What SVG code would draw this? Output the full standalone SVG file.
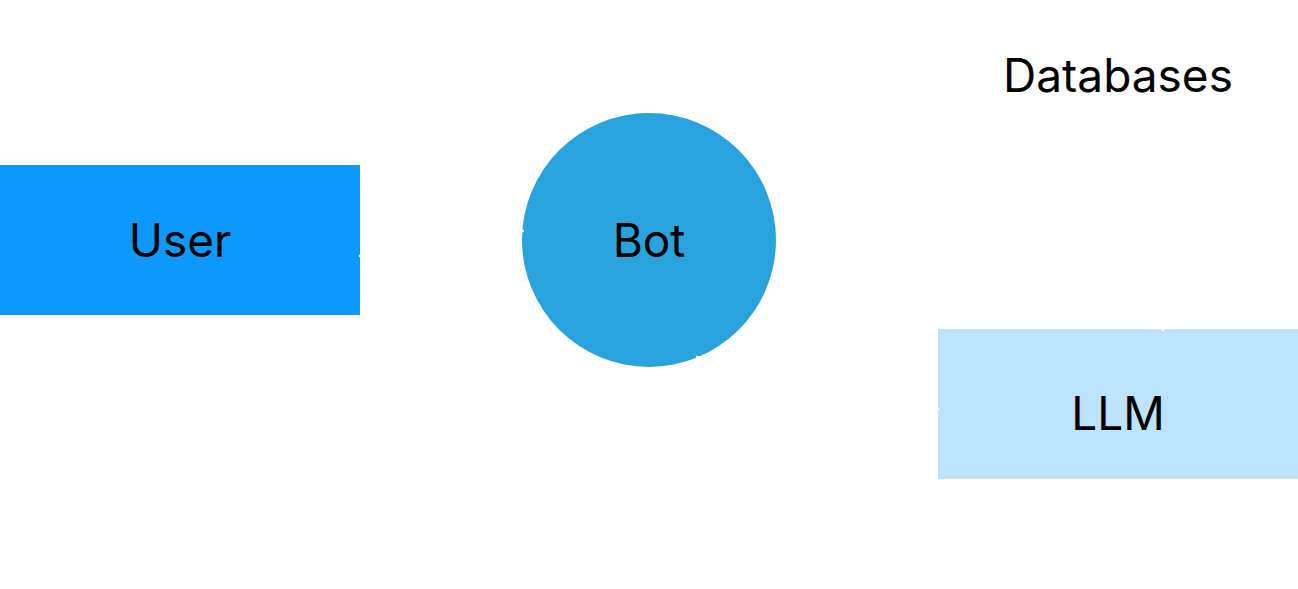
<svg xmlns="http://www.w3.org/2000/svg" width="1298" height="589" viewBox="0 0 1298 589">
<style>
.lbl{font-family:Inter,"Noto Sans",sans-serif;font-size:46px;fill:#000;text-anchor:middle}
.edge{stroke:#fff;stroke-width:2.5;fill:none;stroke-linecap:round}
</style>
<rect width="1298" height="589" fill="#fff"/>
<g id="user"><rect x="0" y="165" width="360" height="150" fill="#0f99ff"/><text class="lbl" x="180" y="257">User</text></g>
<g id="bot"><circle cx="649" cy="240" r="127" fill="#2aa3dd"/><text class="lbl" x="649" y="257">Bot</text></g>
<g id="llm"><rect x="938" y="329" width="360" height="150" fill="#bde3fd"/><text class="lbl" x="1118" y="430">LLM</text></g>
<g id="databases"><text class="lbl" x="1118" y="92">Databases</text></g>
<g id="connectors">
<path class="edge" d="M360,256 L523,231"/>
<path class="edge" d="M697,357 L938,409"/>
<path class="edge" d="M1163,330 L1163,110"/>
</g>
</svg>
